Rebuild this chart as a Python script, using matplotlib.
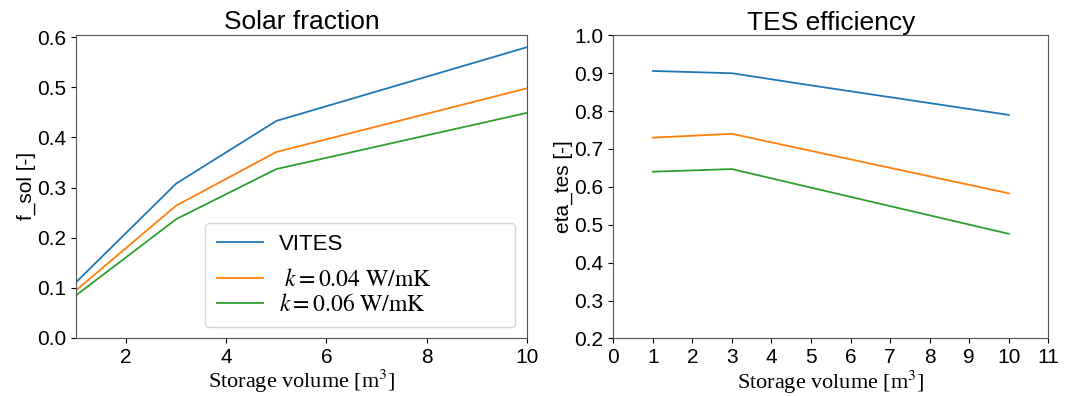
import matplotlib
matplotlib.use("Agg")
import matplotlib.pyplot as plt
from matplotlib.offsetbox import DrawingArea

volume = [1, 3, 5, 10]
labels = ["VITES", r"$\ k = 0.04\ \mathrm{W/mK}$", r"$k = 0.06\ \mathrm{W/mK}$"]
f_sol_vites = [0.111, 0.308, 0.433, 0.580]
f_sol_k004 = [0.095, 0.264, 0.371, 0.498]
f_sol_k006 = [0.085, 0.237, 0.337, 0.449]
eta_vites = [0.906, 0.900, 0.868, 0.790]
eta_k004 = [0.730, 0.740, 0.695, 0.583]
eta_k006 = [0.640, 0.647, 0.598, 0.476]

plt.rcParams['font.family'] = ['Liberation Sans', 'DejaVu Sans']
plt.rcParams['mathtext.fontset'] = 'stix'

fig = plt.figure(figsize=(10.82, 3.96), dpi=100)
ax1 = fig.add_axes([0.0702, 0.1465, 0.4166, 0.7658])
ax2 = fig.add_axes([0.5668, 0.1455, 0.4021, 0.7652])

for ys, lab in zip([f_sol_vites, f_sol_k004, f_sol_k006], labels):
    ax1.plot(volume, ys, label=lab, lw=1.3)
for ys, lab in zip([eta_vites, eta_k004, eta_k006], labels):
    ax2.plot(volume, ys, label=lab, lw=1.3)

ax1.set_xlim(1, 10)
ax1.set_ylim(0, 0.605)
ax1.set_xticks([2, 4, 6, 8, 10])
ax1.set_yticks([0.0, 0.1, 0.2, 0.3, 0.4, 0.5, 0.6])
ax2.set_xlim(0, 11)
ax2.set_ylim(0.2, 1.0)
ax2.set_xticks(range(0, 12))
ax2.set_yticks([0.2, 0.3, 0.4, 0.5, 0.6, 0.7, 0.8, 0.9, 1.0])

for ax, title, ylab in [(ax1, "Solar fraction", "f_sol [-]"), (ax2, "TES efficiency", "eta_tes [-]")]:
    ax.set_title(title, fontsize=19, pad=4)
    ax.set_ylabel(ylab, fontsize=15, labelpad=1)
    ax.set_xlabel(r"Storage volume [m$^3$]", fontsize=16, family='Liberation Serif', labelpad=1)
    ax.tick_params(labelsize=15)
    for s in ax.spines.values():
        s.set_color('#555555')

ax1.set_yticklabels(["0.0", "0.1", "0.2", "0.3", "0.4", "0.5", "0.6"])

leg = ax1.legend(loc='lower right', fontsize=16, bbox_to_anchor=(0.974, 0.036),
                 borderaxespad=0, handlelength=2.07, handletextpad=0.75,
                 labelspacing=0.13, borderpad=0.5)
for t in leg.get_texts()[1:]:
    t.set_family('Liberation Serif')
    t.set_fontsize(17)
# extra gap below the first legend row, extra room to the right of the texts
col = leg._legend_handle_box.get_children()[0]
rows = col.get_children()
rows[1].get_children().append(DrawingArea(40, 1))
rows.insert(1, DrawingArea(1, 6))

fig.savefig("out.png", dpi=100)
